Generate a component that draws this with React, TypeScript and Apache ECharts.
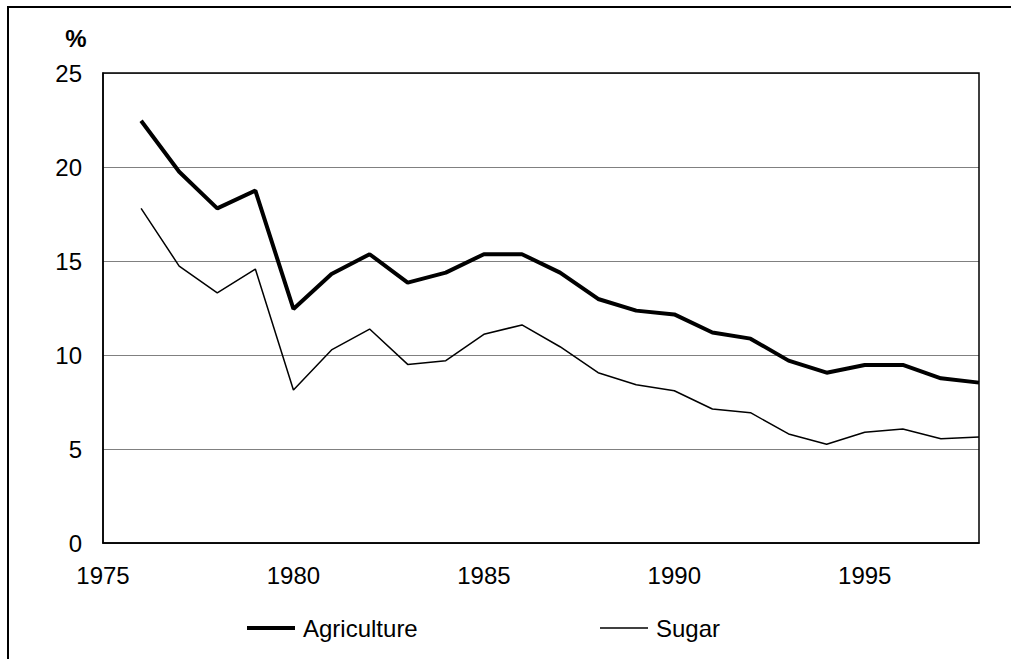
import React, { useEffect, useRef } from "react";
import * as echarts from "echarts";

const years = [1976, 1977, 1978, 1979, 1980, 1981, 1982, 1983, 1984, 1985, 1986, 1987, 1988, 1989, 1990, 1991, 1992, 1993, 1994, 1995, 1996, 1997, 1998];
const agriculture = [22.46, 19.75, 17.8, 18.74, 12.45, 14.31, 15.36, 13.85, 14.38, 15.36, 15.36, 14.38, 12.98, 12.36, 12.16, 11.2, 10.87, 9.7, 9.06, 9.47, 9.47, 8.76, 8.53];
const sugar = [17.8, 14.73, 13.31, 14.57, 8.14, 10.27, 11.38, 9.5, 9.7, 11.1, 11.6, 10.44, 9.06, 8.42, 8.1, 7.13, 6.93, 5.8, 5.25, 5.89, 6.06, 5.55, 5.64];
const seriesNames = ["Agriculture", "Sugar"];
const yUnit = "%";

export default function App() {
  const ref = useRef<HTMLDivElement>(null);
  useEffect(() => {
    if (!ref.current) return;
    const chart = echarts.init(ref.current, null, { renderer: "svg" });
    const font = "Liberation Sans, Arial, sans-serif";
    const legendText = { fontSize: 24, color: "#000", fontFamily: font, padding: [0, 0, 0, 3] };
    chart.setOption({
      animation: false,
      backgroundColor: "#ffffff",
      grid: { left: 103, top: 73, right: 32, bottom: 116, containLabel: false },
      xAxis: {
        type: "value",
        min: 1975,
        max: 1998,
        interval: 5,
        axisLine: { show: true, onZero: false, lineStyle: { color: "#000", width: 1.5 } },
        axisTick: { show: false },
        splitLine: { show: false },
        axisLabel: {
          showMaxLabel: false,
          margin: 20,
          fontSize: 24,
          color: "#000",
          fontFamily: font,
          formatter: (v: number) => String(v),
        },
      },
      yAxis: {
        type: "value",
        min: 0,
        max: 25,
        interval: 5,
        axisLine: { show: true, lineStyle: { color: "#000", width: 1.5 } },
        axisTick: { show: false },
        splitLine: { show: true, lineStyle: { color: "#808080", width: 1.2 } },
        axisLabel: { margin: 21, fontSize: 24, color: "#000", fontFamily: font },
      },
      legend: [
        {
          top: 616,
          left: 247,
          padding: 0,
          itemWidth: 48,
          itemHeight: 4,
          icon: "rect",
          textStyle: legendText,
          data: [seriesNames[0]],
        },
        {
          top: 616,
          left: 600,
          padding: 0,
          itemWidth: 48,
          itemHeight: 1.5,
          icon: "rect",
          textStyle: legendText,
          data: [seriesNames[1]],
        },
      ],
      graphic: [
        {
          type: "polyline",
          shape: { points: [[8, 680], [8, 7], [1030, 7]] },
          style: { stroke: "#000", lineWidth: 2, fill: "none" },
          silent: true,
        },
        {
          type: "rect",
          shape: { x: 103, y: 73, width: 876, height: 470 },
          style: { fill: "none", stroke: "#000", lineWidth: 1.5 },
          silent: true,
          z: 10,
        },
        {
          type: "text",
          x: 76,
          y: 38,
          style: { text: yUnit, fontSize: 24, fontWeight: "bold", fontFamily: font, fill: "#000", align: "center", verticalAlign: "middle" },
        },
      ],
      series: [
        {
          name: seriesNames[0],
          type: "line",
          symbol: "none",
          data: years.map((y, i) => [y, agriculture[i]]),
          lineStyle: { color: "#000", width: 4 },
          itemStyle: { color: "#000" },
        },
        {
          name: seriesNames[1],
          type: "line",
          symbol: "none",
          data: years.map((y, i) => [y, sugar[i]]),
          lineStyle: { color: "#000", width: 1.5 },
          itemStyle: { color: "#000" },
        },
      ],
    });
    return () => chart.dispose();
  }, []);
  return (
    <div
      ref={ref}
      style={{ position: "absolute", left: 0, top: 0, width: 1011, height: 659, overflow: "hidden" }}
    />
  );
}
